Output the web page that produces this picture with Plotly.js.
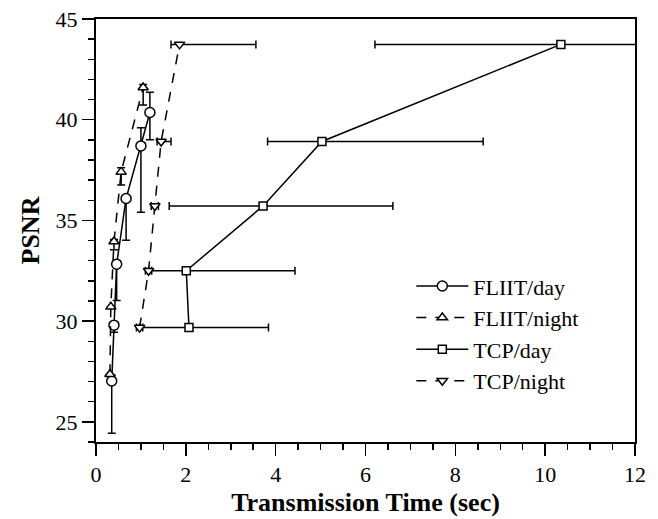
<!DOCTYPE html>
<html>
<head>
<meta charset="utf-8">
<script src="https://cdn.plot.ly/plotly-3.0.1.min.js"></script>
<style>html,body{margin:0;padding:0;background:#fff;}#chart{width:658px;height:519px;}</style>
</head>
<body>
<div id="chart"></div>
<script>
// FLIIT / day (circles, solid)
const fliitDayX = [0.35, 0.40, 0.46, 0.67, 1.00, 1.20];
const fliitDayY = [27.03, 29.80, 32.83, 36.09, 38.70, 40.36];
const fliitDayErrPlus = [0.3, 0.1, 0.1, 0.1, 0.9, 1.0];
const fliitDayErrMinus = [2.6, 0.35, 1.8, 2.07, 3.3, 1.35];

// FLIIT / night (triangle-up, dashed)
const fliitNightX = [0.31, 0.33, 0.40, 0.56, 1.05];
const fliitNightY = [27.36, 30.71, 33.95, 37.41, 41.60];
const fliitNightErrPlus = [0, 0, 0.1, 0.2, 0.15];
const fliitNightErrMinus = [0, 0, 0.4, 0.65, 0.87];

// TCP / day (squares, solid) with horizontal error bars
const tcpDayX = [2.07, 2.01, 3.72, 5.03, 10.35];
const tcpDayY = [29.68, 32.50, 35.72, 38.92, 43.74];
const tcpDayErrPlus = [1.77, 2.42, 2.89, 3.59, 2.5];
const tcpDayErrMinus = [1.1, 0.84, 2.09, 1.21, 4.14];

// TCP / night (triangle-down, dashed) with horizontal error bars
const tcpNightX = [0.97, 1.17, 1.31, 1.45, 1.86];
const tcpNightY = [29.68, 32.50, 35.72, 38.92, 43.74];
const tcpNightErrPlus = [0.07, 0.07, 0.08, 0.22, 1.70];
const tcpNightErrMinus = [0.07, 0.07, 0.08, 0.09, 0.19];

const FONT = 'Liberation Serif, Times New Roman, serif';
const eb = {thickness: 1.5, width: 4, color: '#000'};

const traces = [
  {
    name: 'FLIIT/day', x: fliitDayX, y: fliitDayY, type: 'scatter', mode: 'lines+markers',
    line: {color: '#000', width: 1.5},
    marker: {symbol: 'circle', size: 10, color: '#fff', line: {color: '#000', width: 1.5}},
    error_y: Object.assign({type: 'data', symmetric: false, array: fliitDayErrPlus, arrayminus: fliitDayErrMinus}, eb)
  },
  {
    name: 'FLIIT/night', x: fliitNightX, y: fliitNightY, type: 'scatter', mode: 'lines+markers',
    line: {color: '#000', width: 1.5, dash: '10px,9px'},
    marker: {symbol: 'triangle-up', size: 9, color: '#fff', line: {color: '#000', width: 1.5}},
    error_y: Object.assign({type: 'data', symmetric: false, array: fliitNightErrPlus, arrayminus: fliitNightErrMinus}, eb)
  },
  {
    name: 'TCP/day', x: tcpDayX, y: tcpDayY, type: 'scatter', mode: 'lines+markers',
    line: {color: '#000', width: 1.5},
    marker: {symbol: 'square', size: 8, color: '#fff', line: {color: '#000', width: 1.5}},
    error_x: Object.assign({type: 'data', symmetric: false, array: tcpDayErrPlus, arrayminus: tcpDayErrMinus}, eb)
  },
  {
    name: 'TCP/night', x: tcpNightX, y: tcpNightY, type: 'scatter', mode: 'lines+markers',
    line: {color: '#000', width: 1.5, dash: '10px,9px'},
    marker: {symbol: 'triangle-down', size: 9, color: '#fff', line: {color: '#000', width: 1.5}},
    error_x: Object.assign({type: 'data', symmetric: false, array: tcpNightErrPlus, arrayminus: tcpNightErrMinus}, eb)
  }
];

const layout = {
  width: 658, height: 519,
  margin: {l: 96, r: 23, t: 19, b: 77},
  paper_bgcolor: '#fff', plot_bgcolor: '#fff',
  font: {family: FONT, size: 22, color: '#000'},
  showlegend: true,
  legend: {
    x: 0.585, y: 0.418, xanchor: 'left', yanchor: 'top',
    bgcolor: 'rgba(0,0,0,0)', borderwidth: 0,
    itemwidth: 52,
    font: {family: FONT, size: 22, color: '#000'},
    tracegroupgap: 0
  },
  xaxis: {
    range: [0, 12], dtick: 2, tick0: 0,
    showgrid: false, zeroline: false,
    showline: true, linecolor: '#000', linewidth: 2, mirror: true,
    ticks: 'outside', ticklen: 12, tickwidth: 1.5, tickcolor: '#000',
    minor: {dtick: 0.5, ticks: 'outside', ticklen: 6, tickwidth: 1.5, tickcolor: '#000', showgrid: false},
    tickfont: {family: FONT, size: 22},
    title: {text: '<b>Transmission Time (sec)</b>', font: {family: FONT, size: 26}, standoff: 6}
  },
  yaxis: {
    range: [24, 45], dtick: 5, tick0: 25,
    showgrid: false, zeroline: false,
    showline: true, linecolor: '#000', linewidth: 2, mirror: true,
    ticks: 'outside', ticklen: 12, tickwidth: 1.5, tickcolor: '#000',
    minor: {dtick: 1, ticks: 'outside', ticklen: 6, tickwidth: 1.5, tickcolor: '#000', showgrid: false},
    tickfont: {family: FONT, size: 22},
    title: {text: '<b>PSNR</b>', font: {family: FONT, size: 26}, standoff: 8}
  }
};

Plotly.newPlot('chart', traces, layout, {displayModeBar: false, staticPlot: true});
</script>
</body>
</html>
